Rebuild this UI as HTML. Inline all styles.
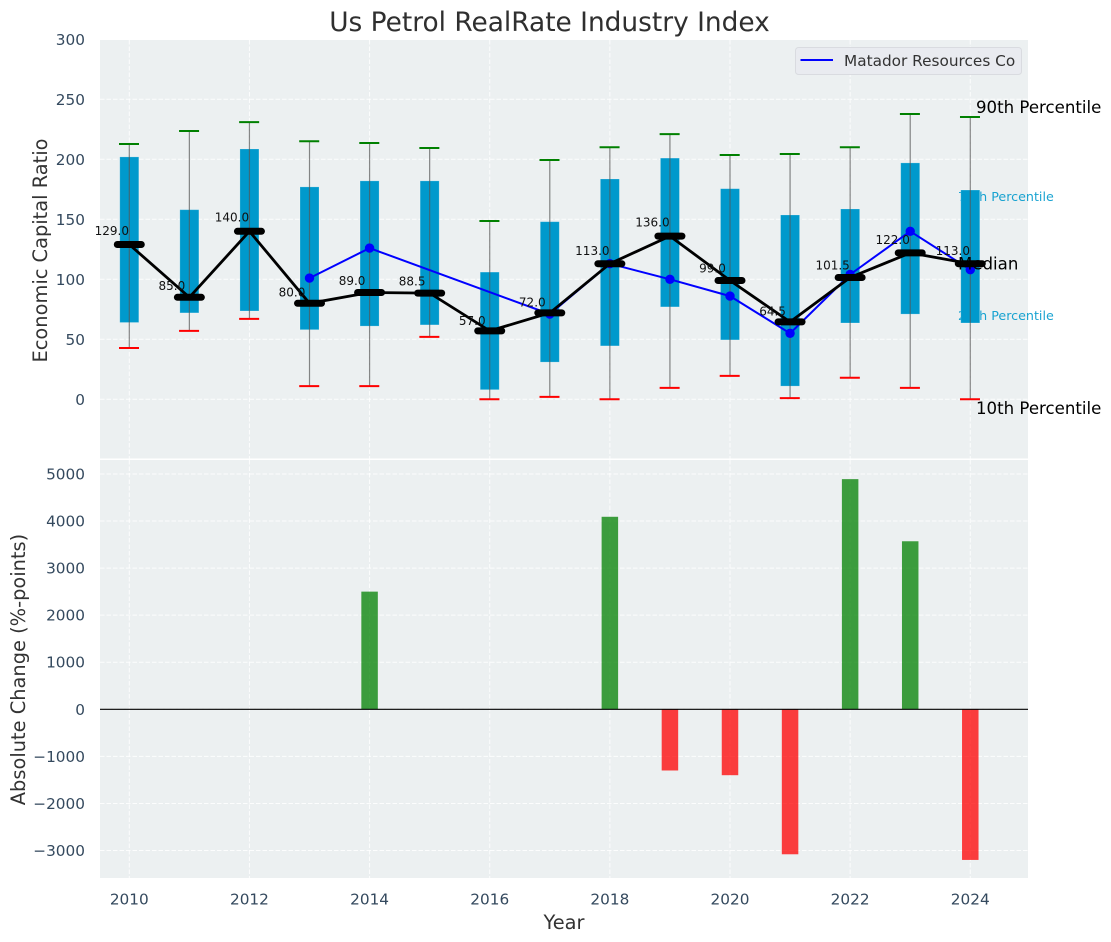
<!DOCTYPE html>
<html lang="en">
<head>
<meta charset="utf-8">
<title>Us Petrol RealRate Industry Index</title>
<style>
html,body{margin:0;padding:0;background:#fff;}
svg{display:block;}
text{font-family:"DejaVu Sans","Liberation Sans",sans-serif;}
</style>
</head>
<body>
<svg id="chart" xmlns="http://www.w3.org/2000/svg" width="1111" height="942" viewBox="0 0 1111 942">
  <rect x="100" y="40" width="928" height="418.5" fill="#ecf0f1"/>
  <rect x="100" y="460" width="928" height="418" fill="#ecf0f1"/>
  <g id="grid"></g>
  <g id="under">
    <text x="958" y="201" font-size="12.7" fill="#0099cc" fill-opacity="0.9">75th Percentile</text>
    <text x="958" y="320" font-size="12.7" fill="#0099cc" fill-opacity="0.9">25th Percentile</text>
  </g>
  <g id="marks"></g>
  <g id="bars"></g>
  <g id="ticks"></g>
  <text x="549.5" y="31" font-size="26.4" text-anchor="middle" fill="#2f2f2f">Us Petrol RealRate Industry Index</text>
  <text transform="translate(47,250.5) rotate(-90)" font-size="19.4" text-anchor="middle" fill="#333">Economic Capital Ratio</text>
  <text transform="translate(25,669.5) rotate(-90)" font-size="19.4" text-anchor="middle" fill="#333">Absolute Change (%-points)</text>
  <text x="564" y="929" font-size="19.4" text-anchor="middle" fill="#333">Year</text>
  <text x="976" y="113" font-size="16.6" fill="#000">90th Percentile</text>
  <text x="976" y="414" font-size="16.6" fill="#000">10th Percentile</text>
  <g>
    <rect x="795.5" y="47.5" width="226" height="27" rx="3" fill="#e9ebf0" stroke="#d9dbe0" stroke-width="1"/>
    <line x1="800.5" x2="833" y1="60" y2="60" stroke="#0000ff" stroke-width="2"/>
    <text x="844" y="66" font-size="15.3" fill="#333">Matador Resources Co</text>
  </g>
</svg>
<script>
var years = [2010,2011,2012,2013,2014,2015,2016,2017,2018,2019,2020,2021,2022,2023,2024];
var p90 = [212.7,223.6,231,215,213.6,209.4,148.6,199.4,210,221,203.6,204.4,210,237.8,235.3];
var p75 = [202,158,208.6,177,182,182,106,148,183.6,201,175.5,153.6,158.6,197,174.4];
var medians = [129,85,140,80,89,88.5,57,72,113,136,99,64.5,101.5,122,113];
var p25 = [64,72,73.6,58,61,62,8,31,44.5,77,49.5,11,63.6,71,63.6];
var p10 = [42.8,57,67,11,11,52,0,2,0,9.5,19.5,1,18,9.5,0];
var company = [null,null,null,101,126,null,null,71,113,100,86,55,104,140,108];
var changes = [null,null,null,null,2500,null,null,null,4090,-1300,-1400,-3080,4890,3570,-3200];
var topTicks = [0,50,100,150,200,250,300];
var bottomTicks = [-3000,-2000,-1000,0,1000,2000,3000,4000,5000];
var xTicks = [2010,2012,2014,2016,2018,2020,2022,2024];

var NS = 'http://www.w3.org/2000/svg';
function xPos(v){ return 129.3 + (v - 2010) * 60.07; }
function yTop(v){ return 399.3 - v * 1.2; }
function yBottom(v){ return 709.3 - v * 0.04707; }
function make(parent, tag, props, content){
  var el = document.createElementNS(NS, tag);
  for (var k in props) { el.setAttribute(k, props[k]); }
  if (content !== undefined) { el.textContent = content; }
  parent.appendChild(el);
  return el;
}
var grid = document.getElementById('grid');
var marks = document.getElementById('marks');
var bars = document.getElementById('bars');
var ticks = document.getElementById('ticks');
var gridStyle = {stroke:'#ffffff','stroke-width':1,'stroke-dasharray':'4.5 2','stroke-opacity':0.85};
function gridLine(x1,y1,x2,y2){
  var el = make(grid,'line',Object.assign({x1:x1,y1:y1,x2:x2,y2:y2},gridStyle));
  
  
}
topTicks.forEach(function(t){
  gridLine(100,yTop(t),1028,yTop(t));
  var el = make(ticks,'text',{x:85,y:yTop(t)+5.5,'font-size':15.3,'text-anchor':'end',fill:'#34495e'},String(t));
  
  
});
bottomTicks.forEach(function(t){
  gridLine(100,yBottom(t),1028,yBottom(t));
  var label = t < 0 ? '\u2212' + Math.abs(t) : String(t);
  var el = make(ticks,'text',{x:85,y:yBottom(t)+5.5,'font-size':15.3,'text-anchor':'end',fill:'#34495e'},label);
  
  
});
xTicks.forEach(function(t){
  gridLine(xPos(t),40,xPos(t),458.5);
  gridLine(xPos(t),460,xPos(t),878);
  var el = make(ticks,'text',{x:xPos(t),y:904.5,'font-size':15.3,'text-anchor':'middle',fill:'#34495e'},String(t));
  
  
});

/* boxes */
years.forEach(function(y,i){
  var x = xPos(y);
  var box = make(marks,'rect',{x:x-9.5,y:yTop(p75[i]),width:19,height:yTop(p25[i])-yTop(p75[i]),fill:'#0099cc',stroke:'#ffffff','stroke-opacity':0.25,'stroke-width':0.8});
  
  
});
/* whiskers and caps */
years.forEach(function(y,i){
  var x = xPos(y);
  var w = make(marks,'line',{x1:x,x2:x,y1:yTop(p90[i]),y2:yTop(p10[i]),stroke:'#555555','stroke-opacity':0.7,'stroke-width':1.2});
  
  
  var c1 = make(marks,'line',{x1:x-10.3,x2:x+9.7,y1:yTop(p90[i]),y2:yTop(p90[i]),stroke:'#008000','stroke-width':2});
  
  
  var c2 = make(marks,'line',{x1:x-10.3,x2:x+9.7,y1:yTop(p10[i]),y2:yTop(p10[i]),stroke:'#ff0000','stroke-width':2});
  
  
});
/* company series */
var companyPts = [];
years.forEach(function(y,i){
  if (company[i] !== null) { companyPts.push(xPos(y) + ',' + yTop(company[i])); }
});
var companyLine = make(marks,'polyline',{points:companyPts.join(' '),fill:'none',stroke:'#0000ff','stroke-width':2});


years.forEach(function(y,i){
  if (company[i] === null) { return; }
  var dot = make(marks,'circle',{cx:xPos(y),cy:yTop(company[i]),r:4.7,fill:'#0000ff'});
  
  
});
/* median line */
var medPts = years.map(function(y,i){ return xPos(y) + ',' + yTop(medians[i]); });
var medLine = make(marks,'polyline',{points:medPts.join(' '),fill:'none',stroke:'#000000','stroke-width':2.8});


var medianLabel = make(marks,'text',{x:958,y:269.5,'font-size':16.6,fill:'#000'},'Median');


years.forEach(function(y,i){
  var x = xPos(y);
  var m = make(marks,'line',{x1:x-12,x2:x+12,y1:yTop(medians[i]),y2:yTop(medians[i]),stroke:'#000000','stroke-width':7,'stroke-linecap':'round'});
  
  
});
years.forEach(function(y,i){
  var t = make(marks,'text',{x:xPos(y)-17.5,y:yTop(medians[i])-3-0.05*medians[i],'font-size':12,'text-anchor':'middle',fill:'#111'},medians[i].toFixed(1));
  
  
});
/* bottom bars */
years.forEach(function(y,i){
  var v = changes[i];
  if (v === null) { return; }
  var top = Math.min(yBottom(v),yBottom(0));
  var h = Math.abs(yBottom(v)-yBottom(0));
  var b = make(bars,'rect',{x:xPos(y)-8.25,y:top,width:16.5,height:h,fill:v>=0?'#008000':'#ff0000','fill-opacity':0.75});
  
  
});
var zero = make(bars,'line',{x1:100,x2:1028,y1:yBottom(0),y2:yBottom(0),stroke:'#000000','stroke-width':1.2});


</script>
</body>
</html>
